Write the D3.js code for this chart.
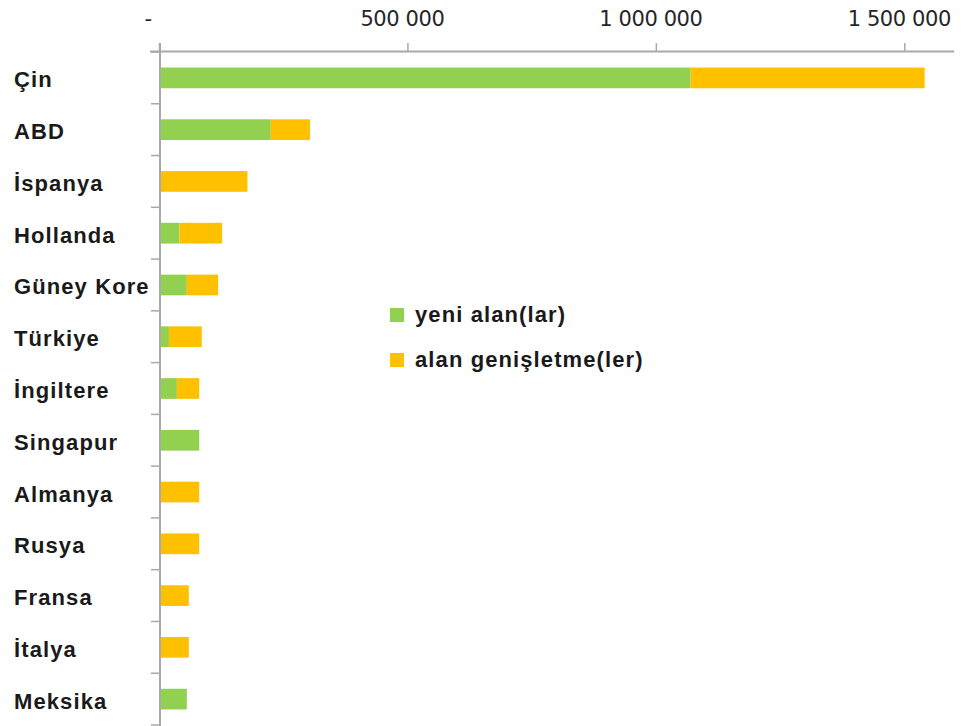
<!DOCTYPE html>
<html>
<head>
<meta charset="utf-8">
<script src="https://cdn.jsdelivr.net/npm/d3@7/dist/d3.min.js"></script>
<style>
  html, body { margin: 0; padding: 0; background: #fff; }
  svg { display: block; }
</style>
</head>
<body>
<script>
// Countries, top to bottom
const countries = ["Çin", "ABD", "İspanya", "Hollanda", "Güney Kore", "Türkiye", "İngiltere",
  "Singapur", "Almanya", "Rusya", "Fransa", "İtalya", "Meksika"];
// new areas
const yeniAlan = [1070000, 225000, 0, 41000, 56000, 20000, 36000, 81000, 0, 0, 4000, 0, 56000];
// area extensions
const alanGenisletme = [471000, 79000, 178000, 86000, 63000, 66000, 45000, 0, 81000, 81000, 56000, 60000, 0];
const seriesNames = ["yeni alan(lar)", "alan genişletme(ler)"];
const seriesKeys = ["yeni", "genis"];
const seriesColors = ["#92D050", "#FFC000"];
const tickValues = [0, 500000, 1000000, 1500000];
const tickLabels = ["-", "500 000", "1 000 000", "1 500 000"];

const W = 963, H = 726;
const svg = d3.select("body").append("svg").attr("width", W).attr("height", H);

const rows = countries.map((c, i) => ({ country: c, yeni: yeniAlan[i], genis: alanGenisletme[i] }));

const x = d3.scaleLinear().domain([0, 1600000]).range([159, 954]);
const y = d3.scaleBand().domain(countries).range([52, 725]).paddingInner(0.6).paddingOuter(0.3);

const axisColor = "#a9a9a9";

// stacked bars
const stacked = d3.stack().keys(seriesKeys)(rows);
svg.append("g").selectAll("g")
  .data(stacked)
  .join("g")
  .attr("fill", (d, i) => seriesColors[i])
  .selectAll("rect")
  .data(d => d)
  .join("rect")
  .attr("x", d => x(d[0]))
  .attr("y", d => y(d.data.country))
  .attr("width", d => Math.max(0, x(d[1]) - x(d[0])))
  .attr("height", y.bandwidth());

// value axis along the top
const axisTop = svg.append("g");
axisTop.append("line")
  .attr("x1", 150).attr("x2", x.range()[1])
  .attr("y1", 51.5).attr("y2", 51.5)
  .attr("stroke", axisColor).attr("stroke-width", 2);
axisTop.selectAll("line.tick")
  .data(tickValues)
  .join("line")
  .attr("class", "tick")
  .attr("x1", d => x(d) + 0.5).attr("x2", d => x(d) + 0.5)
  .attr("y1", 43).attr("y2", 52)
  .attr("stroke", axisColor).attr("stroke-width", 1.5);
axisTop.selectAll("text")
  .data(tickValues)
  .join("text")
  .attr("x", (d, i) => x(d) + (i === 0 ? -11 : -5))
  .attr("y", 26)
  .attr("text-anchor", "middle")
  .attr("font-family", "'DejaVu Sans', sans-serif")
  .attr("font-size", 21)
  .attr("letter-spacing", -0.4)
  .attr("fill", "#262626")
  .text((d, i) => tickLabels[i]);

// category axis on the left
const axisLeft = svg.append("g");
axisLeft.append("line")
  .attr("x1", 160).attr("x2", 160)
  .attr("y1", 43).attr("y2", H)
  .attr("stroke", axisColor).attr("stroke-width", 2);
const step = y.step();
const bounds = d3.range(countries.length + 1).map(i => y.range()[0] + i * step);
axisLeft.selectAll("line.tick")
  .data(bounds)
  .join("line")
  .attr("class", "tick")
  .attr("x1", 151).attr("x2", 160)
  .attr("y1", d => d).attr("y2", d => d)
  .attr("stroke", axisColor).attr("stroke-width", 1.5);
axisLeft.selectAll("text")
  .data(countries)
  .join("text")
  .attr("x", 14)
  .attr("y", d => y(d) + y.bandwidth() / 2 + 9.5)
  .attr("font-family", "'Liberation Sans', Arial, sans-serif")
  .attr("font-weight", "bold")
  .attr("font-size", 22)
  .attr("letter-spacing", 1.1)
  .attr("fill", "#1a1a1a")
  .text(d => d);

// legend
const legend = svg.append("g");
const legendY = [315, 360];
legend.selectAll("rect")
  .data(seriesNames)
  .join("rect")
  .attr("x", 390)
  .attr("y", (d, i) => legendY[i] - 7)
  .attr("width", 14).attr("height", 14)
  .attr("fill", (d, i) => seriesColors[i]);
legend.selectAll("text")
  .data(seriesNames)
  .join("text")
  .attr("x", 415)
  .attr("y", (d, i) => legendY[i] + 7)
  .attr("font-family", "'Liberation Sans', Arial, sans-serif")
  .attr("font-weight", "bold")
  .attr("font-size", 22)
  .attr("letter-spacing", 1.1)
  .attr("fill", "#1a1a1a")
  .text(d => d);
</script>
</body>
</html>
